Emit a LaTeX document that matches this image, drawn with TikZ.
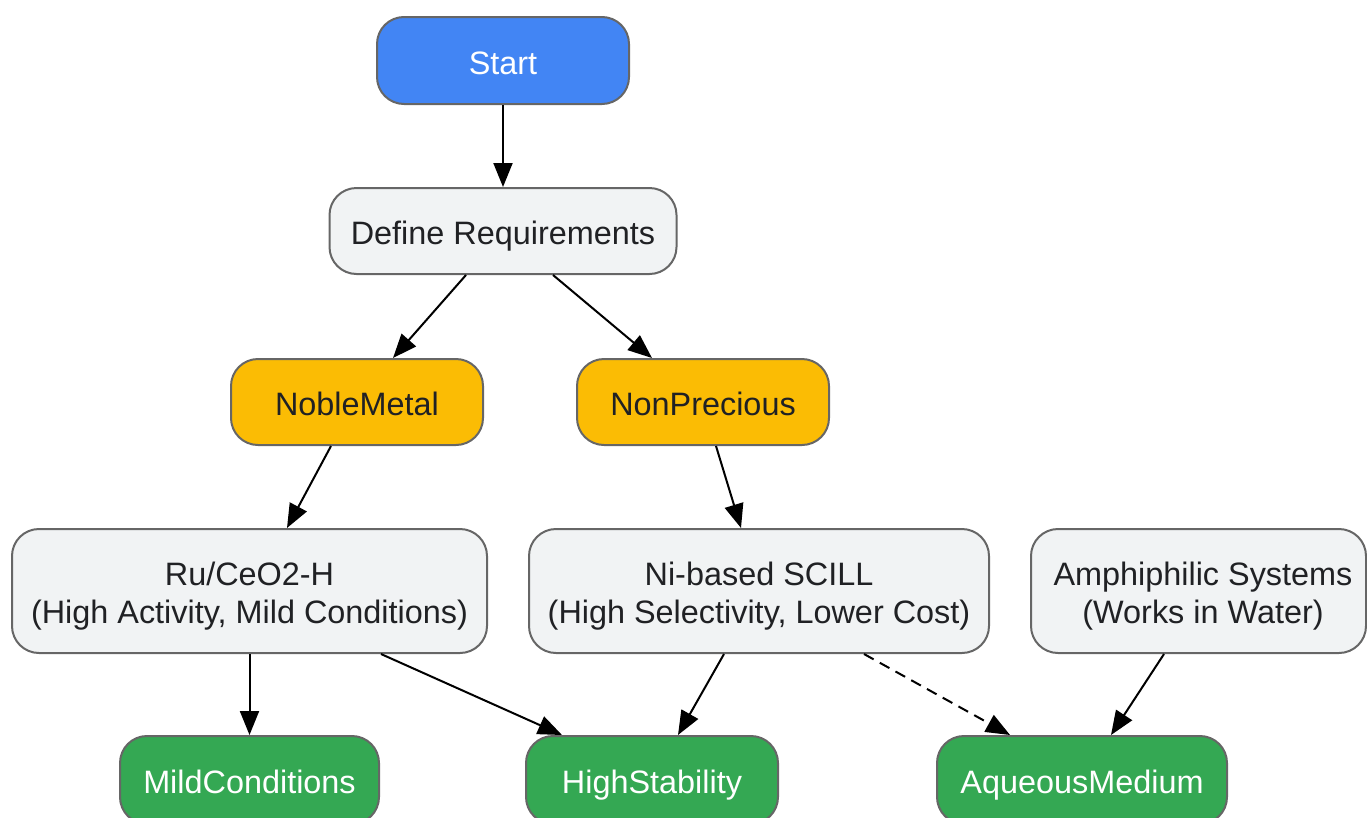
\documentclass[tikz,border=0pt]{standalone}
\usepackage{fontspec}
\setmainfont{Liberation Sans}
\usetikzlibrary{arrows.meta}
\definecolor{cblue}{HTML}{4285F4}
\definecolor{cgray}{HTML}{F1F3F4}
\definecolor{cyellow}{HTML}{FBBC04}
\definecolor{cgreen}{HTML}{34A853}
\definecolor{cborder}{HTML}{666666}
\definecolor{ctext}{HTML}{202124}
\newcommand{\boxtxt}[1]{\raisebox{-6pt}[\height][\depth]{\begin{tabular}{@{}c@{}}#1\end{tabular}}}
\tikzset{
  box/.style={draw=cborder, line width=2pt, rounded corners=27pt, inner sep=0pt,
    font=\fontsize{32.4}{38}\selectfont},
  startbox/.style={box, fill=cblue, text=white},
  grey/.style={box, fill=cgray, text=ctext},
  yellowbox/.style={box, fill=cyellow, text=ctext},
  greenbox/.style={box, fill=cgreen, text=white},
  conn/.style={line width=2pt, black, -{Triangle[length=24pt,width=19pt]}},
}
\begin{document}
\begin{tikzpicture}[x=1pt,y=-1pt]
\useasboundingbox (0,0) rectangle (1367,817);
\clip (0,0) rectangle (1367,817);
\node[startbox, minimum width=252pt, minimum height=87pt] (start) at (503,60.5) {\boxtxt{Start}};
\node[grey, minimum width=347pt, minimum height=86pt] (def) at (503,231) {\boxtxt{Define Requirements}};
\node[yellowbox, minimum width=252pt, minimum height=86pt] (noble) at (357,402) {\boxtxt{NobleMetal}};
\node[yellowbox, minimum width=252pt, minimum height=86pt] (nonp) at (703,402) {\boxtxt{NonPrecious}};
\node[grey, minimum width=475pt, minimum height=124pt] (ru) at (249.5,591) {\boxtxt{Ru/CeO2-H\\(High Activity, Mild Conditions)}};
\node[grey, minimum width=460pt, minimum height=124pt] (ni) at (759,591) {\boxtxt{Ni-based SCILL\\(High Selectivity, Lower Cost)}};
\node[grey, minimum width=335pt, minimum height=124pt] (amph) at (1198.5,591) {\hspace*{9pt}\boxtxt{Amphiphilic Systems\\(Works in Water)}};
\node[greenbox, minimum width=259pt, minimum height=88pt] (mild) at (249.5,780) {\boxtxt{MildConditions}};
\node[greenbox, minimum width=252pt, minimum height=88pt] (hs) at (652,780) {\boxtxt{HighStability}};
\node[greenbox, minimum width=290pt, minimum height=88pt] (aq) at (1082,780) {\boxtxt{AqueousMedium}};

\draw[conn] (start.south) -- (def.north);
\draw[conn] ([xshift=-37pt]def.south) -- ([xshift=36pt]noble.north);
\draw[conn] ([xshift=50pt]def.south) -- ([xshift=-51pt]nonp.north);
\draw[conn] ([xshift=-26pt]noble.south) -- ([xshift=37.5pt]ru.north);
\draw[conn] ([xshift=13pt]nonp.south) -- ([xshift=-18pt]ni.north);
\draw[conn] (ru.south) -- (mild.north);
\draw[conn] ([xshift=131.5pt]ru.south) -- ([xshift=-90pt]hs.north);
\draw[conn] ([xshift=-35pt]ni.south) -- ([xshift=26pt]hs.north);
\draw[conn, dash pattern=on 11pt off 7pt] ([xshift=105pt]ni.south) -- ([xshift=-72pt]aq.north);
\draw[conn] ([xshift=-34.5pt]amph.south) -- ([xshift=29pt]aq.north);
\end{tikzpicture}
\end{document}
